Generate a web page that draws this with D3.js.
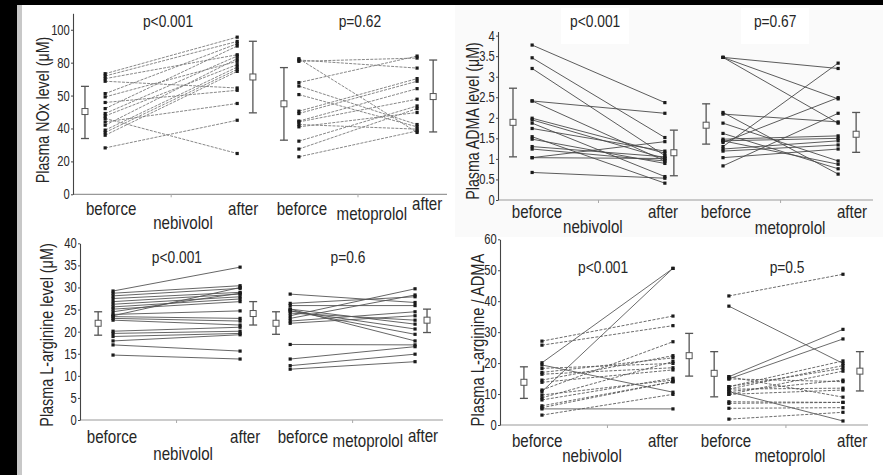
<!DOCTYPE html>
<html>
<head>
<meta charset="utf-8">
<script src="https://cdn.jsdelivr.net/npm/d3@7"></script>
<style>
  html, body { margin: 0; padding: 0; background: #fff; }
  svg { display: block; }
  text { font-family: "Liberation Sans", Arial, sans-serif; fill: #262626; }
</style>
</head>
<body>
<svg id="chart" width="883" height="475"></svg>
<script>
// ---------- data ----------
const groups = ["nebivolol", "metoprolol"];
const timeLabels = ["beforce", "after"];

// Plasma NOx level (μM): paired patient values
const noxNebBefore = [73.3, 71.9, 70.3, 68.7, 61.2, 59.2, 55.8, 52.1, 49.1, 47.6, 46.1, 44.0, 42.0, 39.0, 37.6, 35.9, 28.2];
const noxNebAfter  = [95.5, 92.9, 84.8, 64.6, 91.5, 80.8, 63.2, 90.1, 84.0, 78.8, 24.8, 55.2, 82.4, 77.3, 75.9, 74.7, 45.0];
const noxMetBefore = [82.4, 81.6, 80.8, 67.9, 65.8, 60.6, 50.5, 49.1, 44.5, 44.0, 42.4, 41.0, 32.3, 27.5, 22.8];
const noxMetAfter  = [37.6, 76.7, 82.8, 84.0, 42.4, 41.0, 70.3, 68.7, 64.2, 57.8, 39.6, 49.7, 53.7, 52.1, 38.5];
// mean, lower, upper for nebivolol before/after, metoprolol before/after
const noxStats = [[50.3, 33.9, 65.6], [71.3, 49.5, 93.0], [55.0, 32.9, 77.0], [59.4, 37.9, 81.6]];
const noxTicks = [0, 20, 40, 60, 80, 100];
const noxTickLabels = ["0", "20", "40", "50", "80", "100"];
const noxP = ["p<0.001", "p=0.62"];

// Plasma ADMA level (μM)
const admaNebBefore = [3.77, 3.46, 3.20, 2.41, 2.41, 1.99, 1.95, 1.87, 1.74, 1.54, 1.48, 1.30, 1.24, 1.03, 1.03, 0.67];
const admaNebAfter  = [2.37, 1.52, 1.08, 2.11, 0.95, 1.14, 1.01, 0.57, 1.19, 0.41, 0.89, 1.05, 0.95, 1.42, 1.01, 0.53];
const admaMetBefore = [3.47, 3.47, 3.47, 2.13, 2.09, 1.87, 1.62, 1.48, 1.44, 1.40, 1.30, 1.24, 1.19, 1.03, 0.83, 1.44];
const admaMetAfter  = [3.20, 2.46, 1.87, 0.63, 1.90, 0.95, 0.76, 1.56, 1.50, 2.49, 3.33, 1.44, 1.34, 1.24, 2.11, 0.87];
const admaStats = [[1.89, 1.05, 2.72], [1.15, 0.59, 1.70], [1.82, 1.36, 2.34], [1.60, 1.16, 2.13]];
const admaTicks = [0, 0.5, 1, 1.5, 2, 2.5, 3, 3.5, 4];
const admaTickLabels = ["0", "0.5", "1", "1.5", "2", "2.5", "3", "3.5", "4"];
const admaP = ["p<0.001", "p=0.67"];

// Plasma L-arginine level (μM)
const argNebBefore = [29.2, 28.7, 28.1, 27.5, 26.8, 26.2, 25.6, 25.1, 24.5, 23.9, 23.6, 23.4, 23.0, 22.6, 20.1, 19.6, 18.9, 17.9, 17.0, 14.7];
const argNebAfter  = [34.6, 30.4, 29.8, 28.9, 28.5, 27.9, 27.4, 26.8, 28.7, 24.7, 30.0, 23.0, 22.4, 21.5, 21.0, 20.1, 19.6, 19.3, 15.6, 13.8];
const argMetBefore = [28.5, 26.4, 25.9, 25.1, 24.7, 24.7, 24.2, 23.6, 23.0, 22.4, 21.9, 25.1, 17.1, 13.8, 12.3, 11.5];
const argMetAfter  = [26.6, 27.9, 25.9, 17.9, 19.4, 20.6, 22.6, 29.7, 28.3, 24.5, 23.6, 21.7, 17.0, 16.6, 14.9, 13.2];
const argStats = [[21.9, 19.2, 24.5], [24.1, 21.5, 26.8], [21.9, 19.4, 24.5], [22.6, 19.8, 25.1]];
const argTicks = [0, 5, 10, 15, 20, 25, 30, 35, 40];
const argTickLabels = ["0", "5", "10", "15", "20", "25", "30", "35", "40"];
const argP = ["p<0.001", "p=0.6"];

// Plasma L-arginine / ADMA ratio
const ratioNebBefore = [27.1, 25.8, 20.1, 19.4, 18.3, 17.0, 16.4, 14.5, 13.8, 11.3, 10.8, 9.7, 8.8, 8.1, 6.2, 5.6, 5.2, 3.2];
const ratioNebAfter  = [35.2, 32.1, 50.6, 10.6, 19.9, 21.7, 18.5, 22.4, 17.8, 26.9, 50.6, 14.5, 20.5, 15.1, 14.0, 14.0, 5.2, 9.9];
const ratioMetBefore = [41.7, 38.4, 15.6, 15.6, 14.9, 12.4, 12.4, 11.6, 11.6, 10.8, 10.8, 9.9, 9.9, 7.5, 7.0, 5.4, 1.9, 14.9];
const ratioMetAfter  = [48.7, 19.9, 30.9, 9.0, 27.8, 20.7, 18.3, 19.2, 11.9, 1.3, 14.5, 17.4, 11.3, 7.3, 7.3, 5.6, 4.1, 14.0];
const ratioStats = [[13.8, 8.6, 18.8], [22.4, 15.8, 29.6], [16.7, 9.1, 23.7], [17.4, 11.0, 23.7]];
const ratioTicks = [0, 10, 20, 30, 40, 50, 60];
const ratioTickLabels = ["0", "10", "20", "30", "40", "50", "60"];
const ratioP = ["p<0.001", "p=0.5"];

// ---------- layout & style ----------
// slots: mean(before g1), before g1, after g1, mean(after g1), mean(before g2), before g2, after g2, mean(after g2)
// labels: beforce g1, group1, after g1, beforce g2, group2, after g2 -> [fraction along x, baseline y]
const panels = [
  {
    title: "Plasma NOx level (μM)", titlePos: [49, 110], titleScale: 0.79,
    axisX: [73, 447], axisY: [194.3, 13.3], domain: [0, 110],
    ticks: noxTicks, tickLabels: noxTickLabels,
    series: [[noxNebBefore, noxNebAfter], [noxMetBefore, noxMetAfter]], stats: noxStats, pvals: noxP,
    slots: [0.032, 0.086, 0.439, 0.481, 0.564, 0.604, 0.920, 0.963],
    labels: [[0.102, 215], [0.294, 229], [0.455, 215], [0.612, 215], [0.799, 220], [0.947, 210]],
    pPos: [[0.254, 27], [0.767, 27]],
    lineColor: "#7a7a7a", lineDash: "3,1.2"
  },
  {
    title: "Plasma ADMA level (μM)", titlePos: [479, 121], titleScale: 0.79,
    axisX: [498, 873], axisY: [200, 31.5], domain: [0, 4.1],
    ticks: admaTicks, tickLabels: admaTickLabels,
    series: [[admaNebBefore, admaNebAfter], [admaMetBefore, admaMetAfter]], stats: admaStats, pvals: admaP,
    slots: [0.040, 0.091, 0.445, 0.469, 0.555, 0.600, 0.907, 0.955],
    labels: [[0.104, 218], [0.253, 233], [0.440, 218], [0.608, 218], [0.779, 234], [0.944, 218]],
    pPos: [[0.259, 26.7], [0.739, 26.7]],
    lineColor: "#4a4a4a", lineDash: null
  },
  {
    title: "Plasma L-arginine level (μM)", titlePos: [53, 335], titleScale: 0.80,
    axisX: [80, 443], axisY: [420, 243.3], domain: [0, 40],
    ticks: argTicks, tickLabels: argTickLabels,
    series: [[argNebBefore, argNebAfter], [argMetBefore, argMetAfter]], stats: argStats, pvals: argP,
    slots: [0.050, 0.091, 0.441, 0.477, 0.540, 0.579, 0.923, 0.956],
    labels: [[0.088, 443], [0.284, 460], [0.455, 443], [0.614, 443], [0.793, 447], [0.945, 442]],
    pPos: [[0.267, 263], [0.738, 263]],
    lineColor: "#555", lineDash: null
  },
  {
    title: "Plasma L-arginine / ADMA", titlePos: [484, 340], titleScale: 0.82,
    axisX: [500, 868], axisY: [425, 239.3], domain: [0, 60],
    ticks: ratioTicks, tickLabels: ratioTickLabels,
    series: [[ratioNebBefore, ratioNebAfter], [ratioMetBefore, ratioMetAfter]], stats: ratioStats, pvals: ratioP,
    slots: [0.065, 0.114, 0.470, 0.514, 0.582, 0.622, 0.932, 0.978],
    labels: [[0.101, 447], [0.250, 462], [0.443, 447], [0.614, 447], [0.788, 462], [0.957, 447]],
    pPos: [[0.280, 273], [0.780, 273]],
    lineColor: "#5a5a5a", lineDash: "3,1.5"
  }
];
// lines drawn solid in the ratio panel (indices per group)
const ratioSolid = [[2, 10, 3, 16], [1, 2, 4, 9]];

// condensed text: horizontally squeezed sans
function addText(parent, x, y, str, size, sx, rotate) {
  return parent.append("text")
    .attr("transform", `translate(${x},${y})${rotate ? " rotate(-90)" : ""} scale(${sx},1)`)
    .attr("text-anchor", "middle").attr("font-size", size)
    .text(str);
}

const svg = d3.select("#chart");

// frame of the figure
svg.append("rect").attr("x", 0).attr("y", 0).attr("width", 883).attr("height", 475).attr("fill", "#fff");
svg.append("rect").attr("x", 455).attr("y", 5).attr("width", 428).attr("height", 232).attr("fill", "#fafafa");
svg.append("rect").attr("x", 0).attr("y", 0).attr("width", 17).attr("height", 475).attr("fill", "#000");
svg.append("rect").attr("x", 17).attr("y", 5).attr("width", 5).attr("height", 470).attr("fill", "#c8c8c8");
svg.append("rect").attr("x", 0).attr("y", 0).attr("width", 883).attr("height", 5).attr("fill", "#000");

panels.forEach((p, pi) => {
  const g = svg.append("g");
  const x = d3.scaleLinear().domain([0, 1]).range(p.axisX);
  const y = d3.scaleLinear().domain(p.domain).range(p.axisY);

  // white boxes behind p-values in the shaded panel
  if (pi === 1) {
    p.pPos.forEach(pp => {
      g.append("rect").attr("x", x(pp[0]) - 34).attr("y", 8).attr("width", 68).attr("height", 36).attr("fill", "#fff");
    });
  }

  // x baseline and group-centre ticks
  g.append("line")
    .attr("x1", p.axisX[0]).attr("x2", p.axisX[1])
    .attr("y1", y(0)).attr("y2", y(0))
    .attr("stroke", "#999").attr("stroke-width", 1.2);
  [0, 1].forEach(k => {
    const cx = x((p.slots[1 + 4 * k] + p.slots[2 + 4 * k]) / 2);
    g.append("line").attr("x1", cx).attr("x2", cx).attr("y1", y(0)).attr("y2", y(0) + 3)
      .attr("stroke", "#aaa").attr("stroke-width", 1);
  });

  // y axis
  const ax = g.append("g")
    .attr("transform", `translate(${p.axisX[0]},0)`)
    .call(d3.axisLeft(y).tickValues(p.ticks).tickFormat((d, i) => p.tickLabels[i]).tickSizeInner(2).tickSizeOuter(0).tickPadding(2));
  ax.select(".domain").attr("stroke", "#444").attr("stroke-width", 1.1);
  ax.selectAll(".tick line").attr("stroke", "#444");
  ax.selectAll(".tick text").attr("font-size", 14).attr("fill", "#262626")
    .attr("transform", "scale(0.8,1)")
    .style("font-family", '"Liberation Sans", Arial, sans-serif');

  // axis title
  addText(g, p.titlePos[0], p.titlePos[1], p.title, 18, p.titleScale, true);

  // paired lines and end markers
  p.series.forEach((pair, k) => {
    const [before, after] = pair;
    const xb = x(p.slots[1 + 4 * k]);
    const xa = x(p.slots[2 + 4 * k]);
    before.forEach((b, i) => {
      let dash = p.lineDash;
      if (pi === 3 && ratioSolid[k].includes(i)) dash = null;
      g.append("line")
        .attr("x1", xb).attr("y1", y(b))
        .attr("x2", xa).attr("y2", y(after[i]))
        .attr("stroke", p.lineColor).attr("stroke-width", 0.9)
        .attr("stroke-dasharray", dash);
    });
    [[before, xb], [after, xa]].forEach(([vals, cx]) => {
      g.selectAll(null).data(vals).enter().append("rect")
        .attr("x", cx - 1.6).attr("y", d => y(d) - 1.6)
        .attr("width", 3.2).attr("height", 3.2)
        .attr("fill", "#1a1a1a");
    });
  });

  // mean ± SD markers
  const meanSlots = [0, 3, 4, 7];
  p.stats.forEach((s, j) => {
    const cx = x(p.slots[meanSlots[j]]);
    const [m, lo, hi] = s;
    const sg = g.append("g").attr("stroke", "#555").attr("fill", "none");
    sg.append("line").attr("x1", cx).attr("x2", cx).attr("y1", y(lo)).attr("y2", y(hi)).attr("stroke-width", 1.3);
    [lo, hi].forEach(v => {
      sg.append("line").attr("x1", cx - 4).attr("x2", cx + 4).attr("y1", y(v)).attr("y2", y(v)).attr("stroke-width", 1.3);
    });
    sg.append("rect").attr("x", cx - 3).attr("y", y(m) - 3).attr("width", 6).attr("height", 6)
      .attr("fill", "#fff").attr("stroke-width", 1);
  });

  // category labels
  const cat = [timeLabels[0], groups[0], timeLabels[1], timeLabels[0], groups[1], timeLabels[1]];
  cat.forEach((t, i) => addText(g, x(p.labels[i][0]), p.labels[i][1], t, 18, 0.84, false));

  // p-values
  p.pvals.forEach((t, i) => addText(g, x(p.pPos[i][0]), p.pPos[i][1], t, 17, 0.81, false));
});
</script>
</body>
</html>
